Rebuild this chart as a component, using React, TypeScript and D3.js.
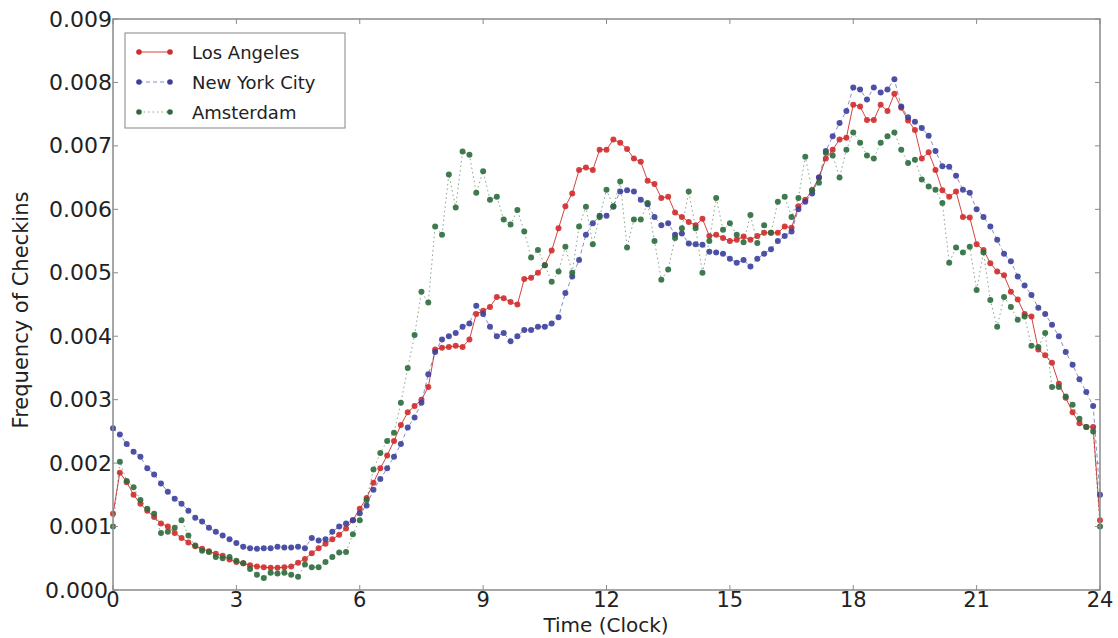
import React from "react";
import * as d3 from "d3";

// one reading every 10 minutes, 0:00 .. 24:00
const times = d3.range(145).map((i) => i / 6);

const losAngeles = [
  0.0012, 0.00185, 0.0017, 0.0015, 0.00136, 0.00125, 0.00115, 0.00105, 0.001, 0.0009, 0.00082, 0.00075,
  0.00069, 0.00065, 0.00061, 0.00057, 0.00054, 0.00048, 0.00044, 0.00042, 0.00039, 0.00037, 0.00036, 0.00035,
  0.00035, 0.00036, 0.00037, 0.00043, 0.00049, 0.00058, 0.00066, 0.00073, 0.0008, 0.00087, 0.00097, 0.0011,
  0.00128, 0.00145, 0.00169, 0.00192, 0.00212, 0.00235, 0.0026, 0.0028, 0.0029, 0.003, 0.0032, 0.00379,
  0.00382, 0.00383, 0.00385, 0.00383, 0.00395, 0.00435, 0.0044, 0.00446, 0.00462, 0.0046, 0.00454, 0.0045,
  0.0049, 0.00492, 0.005, 0.00512, 0.00535, 0.0057, 0.00605, 0.00625, 0.00662, 0.00666, 0.00662, 0.00694,
  0.00694, 0.0071, 0.00705, 0.00695, 0.0068, 0.00675, 0.00645, 0.0064, 0.00618, 0.0062, 0.00595, 0.00588,
  0.0058, 0.00575, 0.00585, 0.00558, 0.0056, 0.00555, 0.0055, 0.00552, 0.00557, 0.00552, 0.00558, 0.00563,
  0.00563, 0.00563, 0.00573, 0.00571, 0.00605, 0.00615, 0.0063, 0.0065, 0.0068, 0.00694, 0.0071, 0.00713,
  0.00765, 0.00762, 0.00741, 0.00741, 0.00765, 0.00755, 0.00782, 0.0076, 0.0074, 0.00725, 0.0068, 0.0069,
  0.00662, 0.0063, 0.0062, 0.00628, 0.00588, 0.00587, 0.00545, 0.00536, 0.00515, 0.00502, 0.00496, 0.0047,
  0.00458, 0.00435, 0.00431, 0.00379, 0.0037, 0.00358, 0.00325, 0.00303, 0.0028, 0.00263, 0.00257, 0.00257,
  0.0011,
];

const newYorkCity = [
  0.00255, 0.00245, 0.0023, 0.00218, 0.0021, 0.00192, 0.00182, 0.00168, 0.00155, 0.00144, 0.00136, 0.00125,
  0.00114, 0.00108, 0.00098, 0.00092, 0.00086, 0.0008, 0.00074, 0.00068, 0.00066, 0.00065, 0.00066, 0.00066,
  0.00068, 0.00067, 0.00067, 0.00068, 0.00066, 0.00082, 0.00078, 0.0008, 0.00092, 0.001, 0.00105, 0.0011,
  0.00121, 0.00133, 0.00158, 0.00175, 0.00192, 0.0021, 0.0023, 0.00256, 0.00272, 0.00295, 0.0034, 0.00375,
  0.00395, 0.004, 0.00405, 0.00415, 0.0042, 0.00448, 0.00435, 0.00415, 0.004, 0.00405, 0.00392, 0.004,
  0.0041, 0.0041, 0.00415, 0.00415, 0.0042, 0.0043, 0.00468, 0.00494, 0.0052, 0.0056, 0.00578, 0.0059,
  0.0059, 0.00605, 0.00628, 0.0063, 0.00628, 0.00615, 0.00608, 0.00588, 0.00575, 0.00578, 0.0056, 0.00562,
  0.00546, 0.00545, 0.00544, 0.00533, 0.00532, 0.0053, 0.00522, 0.00516, 0.0052, 0.0051, 0.00522, 0.0053,
  0.00537, 0.0055, 0.00558, 0.00565, 0.006, 0.00612, 0.00625, 0.0065, 0.00692, 0.00715, 0.00736, 0.00755,
  0.00792, 0.00789, 0.00773, 0.00792, 0.00784, 0.00789, 0.00805, 0.00762, 0.00745, 0.00738, 0.00728, 0.00716,
  0.00692, 0.00668, 0.00667, 0.00653, 0.00631, 0.00626, 0.006, 0.00588, 0.00573, 0.00552, 0.0053, 0.00518,
  0.00494, 0.0048, 0.00465, 0.00445, 0.00435, 0.00418, 0.004, 0.00375, 0.00355, 0.00332, 0.00312, 0.0029,
  0.0015,
];

const amsterdam = [
  0.001, 0.00202, 0.00172, 0.00162, 0.00142, 0.00128, 0.0012, 0.0009, 0.00092, 0.00098, 0.0011, 0.00086,
  0.0007, 0.00062, 0.0006, 0.00052, 0.0005, 0.00052, 0.00046, 0.00042, 0.00033, 0.00024, 0.00019, 0.00027,
  0.00026, 0.00027, 0.00024, 0.00021, 0.0004, 0.00036, 0.00036, 0.00044, 0.00052, 0.00059, 0.0006, 0.00088,
  0.0011, 0.00142, 0.0019, 0.00216, 0.00235, 0.00248, 0.00295, 0.0035, 0.00402, 0.0047, 0.00453, 0.00573,
  0.0056, 0.00655, 0.00603, 0.00691, 0.00686, 0.00626, 0.0066, 0.00615, 0.0062, 0.00584, 0.00576, 0.00599,
  0.00565, 0.00524, 0.00536, 0.00512, 0.00486, 0.00502, 0.00541, 0.005, 0.00573, 0.00604, 0.00545, 0.00588,
  0.00631, 0.00604, 0.00644, 0.0054, 0.00584, 0.00584, 0.0061, 0.0055, 0.00489, 0.00505, 0.00555, 0.0057,
  0.00628, 0.0057, 0.005, 0.0055, 0.00618, 0.00568, 0.00578, 0.0056, 0.00548, 0.00591, 0.00547, 0.00575,
  0.00563, 0.00612, 0.0062, 0.00588, 0.00618, 0.00683, 0.0063, 0.00642, 0.00689, 0.00685, 0.0065, 0.00694,
  0.00721, 0.00705, 0.00685, 0.0068, 0.00705, 0.00715, 0.00721, 0.00694, 0.00673, 0.00678, 0.00647, 0.00636,
  0.00631, 0.0061, 0.00516, 0.0054, 0.00532, 0.00541, 0.00473, 0.00532, 0.00457, 0.00415, 0.00462, 0.00446,
  0.00426, 0.00431, 0.00385, 0.00383, 0.00405, 0.0032, 0.0032, 0.00305, 0.00292, 0.0027, 0.00257, 0.0025,
  0.001,
];

const xTicks = [0, 3, 6, 9, 12, 15, 18, 21, 24];
const yTicks = [0, 0.001, 0.002, 0.003, 0.004, 0.005, 0.006, 0.007, 0.008, 0.009];

const seriesList = [
  { name: "Los Angeles", values: losAngeles, color: "#d02c2c", dash: "none", lineOpacity: 0.9 },
  { name: "New York City", values: newYorkCity, color: "#3b3f9c", dash: "4,3", lineOpacity: 0.6 },
  { name: "Amsterdam", values: amsterdam, color: "#2b6b3c", dash: "1.5,3", lineOpacity: 0.6 },
];

const W = 1118;
const H = 638;
const left = 113;
const right = 1100;
const top = 19;
const bottom = 590;
const font = "'DejaVu Sans', sans-serif";

export default function App() {
  const x = d3.scaleLinear().domain([0, 24]).range([left, right]);
  const y = d3.scaleLinear().domain([0, 0.009]).range([bottom, top]);

  const line = d3
    .line<number>()
    .x((_, i) => x(times[i]))
    .y((d) => y(d));

  return (
    <svg
      width={W}
      height={H}
      style={{ position: "absolute", left: 0, top: 0, background: "#fff" }}
      fontFamily={font}
    >
      <rect x={0} y={0} width={W} height={H} fill="#fff" />

      {/* data */}
      {seriesList.map((s) => (
        <g key={s.name}>
          <path
            d={line(s.values) || ""}
            fill="none"
            stroke={s.color}
            strokeWidth={1}
            strokeDasharray={s.dash}
            strokeOpacity={s.lineOpacity}
          />
          {s.values.map((v, i) => (
            <circle key={i} cx={x(times[i])} cy={y(v)} r={3} fill={s.color} fillOpacity={0.9} />
          ))}
        </g>
      ))}

      {/* frame */}
      <rect
        x={left}
        y={top}
        width={right - left}
        height={bottom - top}
        fill="none"
        stroke="#8a8a8a"
        strokeWidth={1.5}
      />

      {/* ticks, pointing inward on all sides */}
      {xTicks.map((t) => (
        <g key={"x" + t}>
          <line x1={x(t)} x2={x(t)} y1={bottom} y2={bottom - 5} stroke="#8a8a8a" />
          <line x1={x(t)} x2={x(t)} y1={top} y2={top + 5} stroke="#8a8a8a" />
          <text x={x(t)} y={607} textAnchor="middle" fontSize={21} fill="#222">
            {t}
          </text>
        </g>
      ))}
      {yTicks.map((t) => (
        <g key={"y" + t}>
          <line x1={left} x2={left + 5} y1={y(t)} y2={y(t)} stroke="#8a8a8a" />
          <line x1={right} x2={right - 5} y1={y(t)} y2={y(t)} stroke="#8a8a8a" />
          <text
            x={t === 0 ? 108 : 112}
            y={y(t)}
            textAnchor="end"
            dominantBaseline="central"
            fontSize={22}
            fill="#222"
          >
            {d3.format(".3f")(t)}
          </text>
        </g>
      ))}

      {/* axis titles */}
      <text x={606} y={632} textAnchor="middle" fontSize={20} fill="#222">
        Time (Clock)
      </text>
      <text
        transform={`translate(28,310) rotate(-90)`}
        textAnchor="middle"
        fontSize={21}
        fill="#222"
      >
        Frequency of Checkins
      </text>

      {/* legend */}
      <rect x={125} y={33} width={220} height={95} fill="#fff" stroke="#999" strokeWidth={1.2} />
      {seriesList.map((s, i) => {
        const ly = 52 + i * 30;
        return (
          <g key={"leg" + s.name}>
            <line
              x1={139}
              x2={170}
              y1={ly}
              y2={ly}
              stroke={s.color}
              strokeWidth={1}
              strokeDasharray={s.dash}
              strokeOpacity={s.lineOpacity}
            />
            <circle cx={139} cy={ly} r={2.8} fill={s.color} />
            <circle cx={170} cy={ly} r={2.8} fill={s.color} />
            <text x={192} y={ly} dominantBaseline="central" fontSize={18} fill="#222">
              {s.name}
            </text>
          </g>
        );
      })}
    </svg>
  );
}
